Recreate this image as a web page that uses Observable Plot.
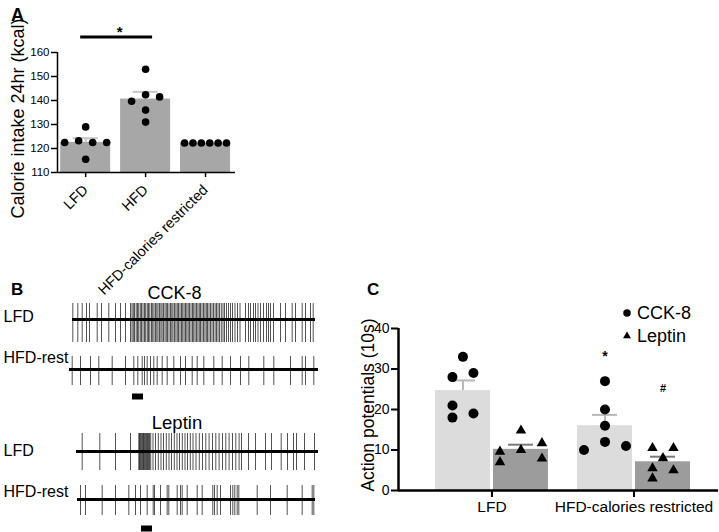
<!DOCTYPE html>
<html><head><meta charset="utf-8">
<script src="https://cdn.jsdelivr.net/npm/d3@7"></script>
<script src="https://cdn.jsdelivr.net/npm/@observablehq/plot@0.6"></script>
<style>
html,body{margin:0;padding:0;background:#fff;}
#fig{position:relative;width:719px;height:532px;overflow:hidden;background:#fff;font-family:"Liberation Sans",Arial,Helvetica,sans-serif;color:#000;}
#fig .abs{position:absolute;}
#fig .lbl{position:absolute;line-height:1;white-space:nowrap;}
#fig .leg > div{height:23px !important;min-height:0 !important;margin:0 !important;padding:0 !important;display:flex !important;align-items:center !important;line-height:23px !important;}
#fig .leg svg{margin-right:4px !important;}
#fig .leg span{margin:0 !important;}
</style></head><body><div id="fig"></div>
<script>
const FONT = '"Liberation Sans", Arial, Helvetica, sans-serif';

// ---------- Panel A data ----------
const groupsA = ["LFD", "HFD", "HFD-calories restricted"];
const intakeLFD = [122.5, 123.2, 129, 122.5, 115.5, 122.5];
const intakeHFD = [153, 139.7, 142.4, 141.5, 136, 131];
const intakeHFDcr = [122.3, 122.3, 122.3, 122.3, 122.3, 122.3];
const ticksA = [110, 120, 130, 140, 150, 160];
const sigA = [{from: 0, to: 1, level: 166.5, label: "*"}];

// ---------- Panel C data ----------
const groupsC = ["LFD", "HFD-calories restricted"];
const seriesC = ["CCK-8", "Leptin"];
const apLFD_CCK = [33, 28, 29, 21, 18, 19];
const apLFD_Leptin = [9.6, 7, 14.8, 10, 11.7, 7.9];
const apHFD_CCK = [10, 27, 20, 16, 12, 11];
const apHFD_Leptin = [10.5, 10.5, 5.5, 8, 3, 5];
const ticksC = [0, 10, 20, 30, 40];
const sigC = [{group: 1, series: "CCK-8", level: 33.2, label: "*"}, {group: 1, series: "Leptin", level: 25.2, label: "#"}];

// ---------- Panel B data (spike times, s) ----------
const cckLFD = [3.3, 8.3, 12.7, 17, 20, 27.7, 32, 39.3, 46, 51, 56,
  61, 62.5, 63.8, 65, 66.7, 68, 69.2, 70.8, 72, 73.5, 75, 76.2, 77.8, 79, 80.3, 82, 83.2, 84.5, 86, 87.3, 88.5, 90,
  91.4, 92.6, 94, 95.5, 96.8, 98, 99.5, 101, 102.3, 103.5, 105, 106.4, 107.8, 109, 110.5, 112, 113.2, 114.6, 116,
  117.3, 118.7, 120, 121.5, 123, 124.2, 125.6, 127, 128.4, 129.8, 131, 132.5, 134, 135.4, 136.8, 138, 139.5, 141,
  142.5, 144, 145.6, 147, 148.5, 150, 151.8, 153.5, 155, 157, 159, 161, 163, 165.5, 168, 170.5,
  176, 179, 181, 184, 186, 188.5, 191, 194, 197, 199, 201, 204, 211, 216, 222.7, 226, 232.7, 236, 241, 243.7];
const cckHFD = [2.7, 11, 21, 29.3, 42.7, 56, 64.3, 68.3, 72.7, 75, 77.7, 81, 84.3, 87.7, 92.7, 97.7, 104.3, 111,
  116, 122.7, 127.7, 134.3, 144.3, 152.7, 161, 171, 179.3, 194.3, 204.3, 221, 232.7, 236, 244.3];
const lepLFD = [12.7, 30.3, 46, 61, 69.3, 70, 70.8, 71.6, 72.4, 73.2, 74, 74.8, 75.6, 76.4, 77.2, 78, 79, 80, 81.2,
  83.5, 86, 88.8, 91.5, 94, 96.8, 99.5, 102, 104.8, 107.5, 110, 112.8, 115.5, 118, 120.8, 123.5, 126.5, 129.8, 133,
  136.3, 139.6, 143, 146.3, 149.6, 153, 156.3, 159.6, 163, 166.3, 169.6, 172,
  179, 186, 196, 202, 211.7, 218, 224, 227, 235, 245];
const lepHFD = [11, 16, 32.7, 46, 59.3, 66, 71, 77.7, 83.7, 85, 91, 97.7, 99.3, 107.7, 111, 112.7, 117.7, 127.7,
  132.7, 143.3, 145, 147.7, 151, 161, 163.3, 165.3, 167.7, 169.3, 187.7, 201, 217.7, 232.7, 242.7, 244.3];
const traceNames = ["LFD", "HFD-rest"];
const traceSpanCCK = [[3, 246], [0, 249]];
const traceSpanLep = [[7, 249], [8, 246]];
const stimCCK = [[63, 74]];
const stimLep = [[72, 83]];

// ---------- helpers ----------
const fig = document.getElementById("fig");
function place(el, left, top) { el.classList.add("abs"); el.style.left = left + "px"; el.style.top = top + "px"; fig.appendChild(el); return el; }
function label(text, left, top, size, opts = {}) {
  const d = document.createElement("div");
  d.className = "lbl"; d.textContent = text;
  d.style.left = left + "px"; d.style.top = top + "px"; d.style.fontSize = size + "px";
  if (opts.bold) d.style.fontWeight = "bold";
  if (opts.center) d.style.transform = "translateX(-50%)";
  fig.appendChild(d); return d;
}
const semOf = (v) => (d3.deviation(v) || 0) / Math.sqrt(v.length);
// GraphPad-like scatter spreading: offsets (px) computed from the values
function spread(values, unitPx, collidePx, spacingPx, maxHalfPx) {
  const n = values.length;
  const idx = d3.range(n).sort((a, b) => values[a] - values[b]);
  const clusters = []; let cur = [idx[0]];
  for (let k = 1; k < n; k++) {
    if ((values[idx[k]] - values[idx[k - 1]]) * unitPx < collidePx) cur.push(idx[k]);
    else { clusters.push(cur); cur = [idx[k]]; }
  }
  clusters.push(cur);
  const off = new Array(n).fill(0);
  for (const c of clusters) {
    const members = c.slice().sort((a, b) => a - b);
    const cols = []; const colOf = new Map();
    for (const i of members) {
      let j = 0;
      while (j < cols.length && cols[j].some(o => Math.abs(values[o] - values[i]) * unitPx < collidePx)) j++;
      if (j === cols.length) cols.push([]);
      cols[j].push(i); colOf.set(i, j);
    }
    const k = cols.length;
    const s = k > 1 ? Math.min(spacingPx, 2 * maxHalfPx / (k - 1)) : 0;
    for (const i of members) off[i] = (colOf.get(i) - (k - 1) / 2) * s;
  }
  return off;
}

// ---------- Panel A ----------
{
  const W = 245, H = 300, ml = 57, mr = 10, mt = 52, mb = 128;
  const xDom = [-0.47, 2.5], yDom = [ticksA[0], ticksA[ticksA.length - 1]];
  const px = (W - ml - mr) / (xDom[1] - xDom[0]);
  const py = (H - mt - mb) / (yDom[1] - yDom[0]);
  const seriesA = [intakeLFD, intakeHFD, intakeHFDcr];
  const stats = seriesA.map((v, i) => ({i, mean: d3.mean(v), sem: semOf(v)}));
  const pts = seriesA.flatMap((v, i) => { const off = spread(v, py, 8, 14, 21); return v.map((y, k) => ({x: i + off[k] / px, y})); });
  const half = 25 / px, cap = 12.5 / px;
  const eb = stats.filter(d => d.sem > 0.05);
  const svg = Plot.plot({
    width: W, height: H, marginLeft: ml, marginRight: mr, marginTop: mt, marginBottom: mb,
    x: {type: "linear", domain: xDom}, y: {domain: yDom},
    style: {fontFamily: FONT, fontSize: "12px", color: "black", background: "transparent", overflow: "visible"},
    marks: [
      Plot.rect(stats, {x1: d => d.i - half, x2: d => d.i + half, y1: yDom[0], y2: "mean", fill: "#a7a7a7"}),
      Plot.ruleX(eb, {x: "i", y1: "mean", y2: d => d.mean + d.sem, stroke: "#c6c6c6", strokeWidth: 2}),
      Plot.ruleY(eb, {y: d => d.mean + d.sem, x1: d => d.i - cap, x2: d => d.i + cap, stroke: "#c6c6c6", strokeWidth: 2}),
      Plot.dot(pts, {x: "x", y: "y", r: 3.8, fill: "black", stroke: "none"}),
      Plot.ruleY([yDom[0]], {strokeWidth: 1.5}),
      Plot.ruleX([xDom[0]], {y1: yDom[0], y2: yDom[1], strokeWidth: 1.5}),
      Plot.axisY({ticks: ticksA, tickSize: 6, tickPadding: 2, fontSize: 11.5, label: null, strokeWidth: 1.5}),
      Plot.axisX({ticks: [0, 1, 2], tickFormat: i => groupsA[i], tickRotate: -45, tickSize: 5, tickPadding: 10, fontSize: 14.5, label: null, strokeWidth: 1.5}),
      Plot.text(["Calorie intake 24hr (kcal)"], {text: d => d, frameAnchor: "left", textAnchor: "middle", rotate: -90, dx: -39, dy: 6, fontSize: 18}),
      Plot.ruleY(sigA, {y: "level", x1: "from", x2: "to", insetLeft: -5, insetRight: -7, strokeWidth: 3}),
      Plot.text(sigA, {x: d => (d.from + d.to) / 2, y: d => d.level + 1.8, text: "label", fontSize: 15, fontWeight: "bold", dx: 4})
    ]
  });
  place(svg, 0, 0);
}

// ---------- Panel B ----------
function tracePlot(spikeArrays, spans, stim, o) {
  const rows = traceNames.map((name, k) => ({name, start: spans[k][0], end: spans[k][1]}));
  const marks = [];
  traceNames.forEach((name, k) => {
    marks.push(Plot.ruleX(spikeArrays[k], {x: d => d, y1: () => name, y2: () => name, stroke: "black", strokeOpacity: 0.68, strokeWidth: 1,
      insetTop: o.insets[k][0], insetBottom: o.insets[k][1]}));
  });
  marks.push(Plot.ruleY(rows, {y: "name", x1: "start", x2: "end", stroke: "black", strokeWidth: 3}));
  marks.push(Plot.ruleY(stim, {y: () => traceNames[1], x1: d => d[0], x2: d => d[1], dy: o.stimDy, strokeWidth: 6, stroke: "black"}));
  traceNames.forEach((name, k) => {
    marks.push(Plot.text([name], {y: d => d, text: d => d, frameAnchor: "left", textAnchor: "start", dx: -66, dy: o.labelDy[k], fontSize: 16}));
  });
  return Plot.plot({
    width: 340, height: o.height, marginLeft: 69, marginRight: 21, marginTop: 0, marginBottom: o.mb,
    x: {domain: [0, 250], axis: null}, y: {type: "band", domain: traceNames, padding: 0, axis: null},
    style: {fontFamily: FONT, color: "black", background: "transparent", overflow: "visible"},
    marks
  });
}
place(tracePlot([cckLFD, cckHFD], traceSpanCCK, stimCCK, {insets: [[9, 2], [12, 9]], labelDy: [-3, -11.5], stimDy: 27, height: 108, mb: 8}), 0, 294);
place(tracePlot([lepLFD, lepHFD], traceSpanLep, stimLep, {insets: [[6, 5], [10, 8]], labelDy: [-1, -8], stimDy: 29, height: 105, mb: 9}), 0, 427);

// ---------- Panel C ----------
{
  const W = 379, H = 262, ml = 58, mr = 1, mt = 58, mb = 42;
  const xDom = [-0.658, 1.595], yDom = [ticksC[0], ticksC[ticksC.length - 1]];
  const px = (W - ml - mr) / (xDom[1] - xDom[0]);
  const py = (H - mt - mb) / (yDom[1] - yDom[0]);
  const barOff = 29 / px, half = 27.5 / px, cap = 12.5 / px;
  const table = [
    {g: 0, s: "CCK-8", v: apLFD_CCK}, {g: 0, s: "Leptin", v: apLFD_Leptin},
    {g: 1, s: "CCK-8", v: apHFD_CCK}, {g: 1, s: "Leptin", v: apHFD_Leptin}
  ].map(d => ({...d, c: d.g + (d.s === seriesC[0] ? -barOff : barOff), mean: d3.mean(d.v), sem: semOf(d.v)}));
  const pts = table.flatMap(d => { const off = spread(d.v, py, 9.5, 21, 22); return d.v.map((y, k) => ({s: d.s, x: d.c + off[k] / px, y})); });
  const fillC = {"CCK-8": "#dcdcdc", "Leptin": "#9c9c9c"};
  const errC = {"CCK-8": "#b8b8b8", "Leptin": "#7a7a7a"};
  const sigX = d => d.group + (d.series === seriesC[0] ? -barOff : barOff);
  const svg = Plot.plot({
    width: W, height: H, marginLeft: ml, marginRight: mr, marginTop: mt, marginBottom: mb,
    x: {type: "linear", domain: xDom}, y: {domain: yDom},
    style: {fontFamily: FONT, fontSize: "14px", color: "black", background: "transparent", overflow: "visible"},
    marks: [
      Plot.rect(table, {x1: d => d.c - half, x2: d => d.c + half, y1: yDom[0], y2: "mean", fill: d => fillC[d.s]}),
      Plot.ruleX(table, {x: "c", y1: "mean", y2: d => d.mean + d.sem, stroke: d => errC[d.s], strokeWidth: 2}),
      Plot.ruleY(table, {y: d => d.mean + d.sem, x1: d => d.c - cap, x2: d => d.c + cap, stroke: d => errC[d.s], strokeWidth: 2}),
      Plot.dot(pts.filter(d => d.s === seriesC[0]), {x: "x", y: "y", r: 5, fill: "black", stroke: "none", symbol: "circle"}),
      Plot.dot(pts.filter(d => d.s === seriesC[1]), {x: "x", y: "y", r: 3.9, fill: "black", stroke: "none", symbol: "triangle"}),
      Plot.ruleY([yDom[0]], {strokeWidth: 2.5}),
      Plot.ruleX([xDom[0]], {y1: yDom[0], y2: yDom[1], strokeWidth: 2.5}),
      Plot.axisY({ticks: ticksC, tickSize: 7, tickPadding: 2, fontSize: 14, label: null, strokeWidth: 2}),
      Plot.axisX({ticks: [0, 1], tickFormat: i => groupsC[i], tickSize: 7, tickPadding: 3, fontSize: 15.5, label: null, strokeWidth: 2}),
      Plot.text(["Action potentials (10s)"], {text: d => d, frameAnchor: "left", textAnchor: "middle", rotate: -90, dx: -30.5, dy: -4.5, fontSize: 17.5}),
      Plot.text(sigC.filter(d => d.label === "*"), {x: sigX, y: "level", text: "label", fontSize: 14, fontWeight: "bold"}),
      Plot.text(sigC.filter(d => d.label !== "*"), {x: sigX, y: "level", text: "label", fontSize: 11, fontWeight: "bold"})
    ]
  });
  place(svg, 340, 270);

  // legend
  const leg = document.createElement("div");
  leg.className = "leg";
  const syms = ["circle", "triangle"], radii = [5, 3.9];
  seriesC.forEach((s, k) => {
    const l = Plot.legend({symbol: {domain: [s], range: [syms[k]]}, fill: "black", stroke: "none", r: radii[k], swatchSize: 12,
      style: {fontFamily: FONT, fontSize: "18px", color: "black"}});
    leg.appendChild(l);
  });
  place(leg, 621, 301.5);
}

// ---------- panel letters & titles ----------
label("A", 11, 5.5, 18, {bold: true});
label("B", 11, 280.5, 17, {bold: true});
label("C", 367, 280.5, 17, {bold: true});
label("CCK-8", 174.5, 284, 18, {center: true});
label("Leptin", 177, 413.7, 18.5, {center: true});
</script></body></html>
